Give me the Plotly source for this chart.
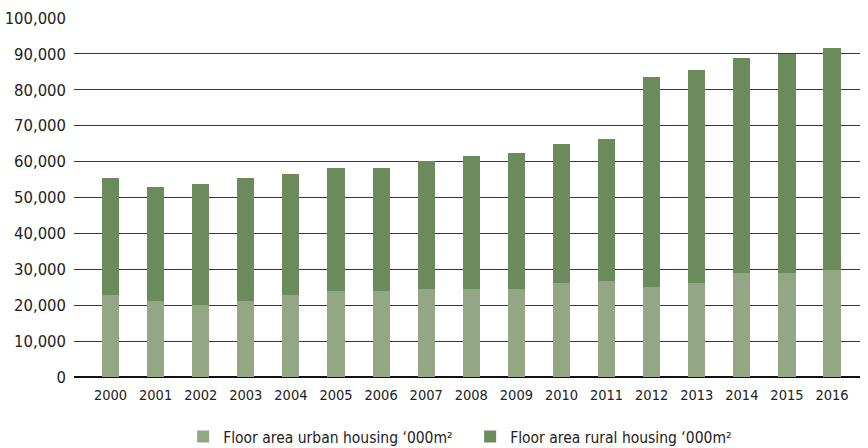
import plotly.graph_objects as go

# Housing floor area, thousand square metres
years = [str(y) for y in range(2000, 2017)]
urban = [22800, 21200, 20000, 21200, 22800, 23900, 23900, 24500, 24500,
         24500, 26200, 26700, 25100, 26200, 29000, 29000, 29800]
total = [55400, 52900, 53800, 55400, 56600, 58200, 58200, 60200, 61600,
         62400, 64900, 66300, 83600, 85500, 88900, 89900, 91700]
rural = [t - u for t, u in zip(total, urban)]

y_ticks = list(range(0, 100001, 10000))
y_tick_text = [f"{v:,}" for v in y_ticks]

URBAN_COLOR = "#94a784"
RURAL_COLOR = "#6c8b5d"
FONT = "DejaVu Sans Condensed, Liberation Sans Narrow, sans-serif"

fig = go.Figure()
fig.add_trace(go.Bar(
    x=years, y=urban, name="Floor area urban housing \u2018000m\u00b2",
    marker=dict(color=URBAN_COLOR, line=dict(width=0)), width=0.38,
))
fig.add_trace(go.Bar(
    x=years, y=rural, name="Floor area rural housing \u2018000m\u00b2",
    marker=dict(color=RURAL_COLOR, line=dict(width=0)), width=0.38,
))

fig.update_layout(
    barmode="stack",
    width=868, height=448,
    margin=dict(l=74, r=8, t=18, b=71, autoexpand=False),
    paper_bgcolor="white", plot_bgcolor="white",
    font=dict(family=FONT, color="#222222"),
    showlegend=True,
    legend=dict(
        orientation="h", x=0.504, xanchor="center", y=-0.167, yanchor="middle",
        font=dict(size=15.5, color="#222222"), itemwidth=30,
        entrywidth=242, entrywidthmode="pixels",
        traceorder="normal",
    ),
    xaxis=dict(
        type="category", range=[-0.81, 16.62],
        showgrid=False, showline=False, zeroline=False,
        ticks="", tickfont=dict(size=14.5, color="#222222"),
        ticklabelstandoff=7, automargin=False,
    ),
    yaxis=dict(
        range=[0, 100000], tickvals=y_ticks, ticktext=y_tick_text,
        showgrid=True, gridcolor="#3a3a3a", gridwidth=1,
        zeroline=True, zerolinecolor="#111111", zerolinewidth=1.5,
        showline=False, ticks="", tickfont=dict(size=16.5, color="#222222"),
        ticklabelstandoff=7, automargin=False,
    ),
)

fig.write_html("out.html")
